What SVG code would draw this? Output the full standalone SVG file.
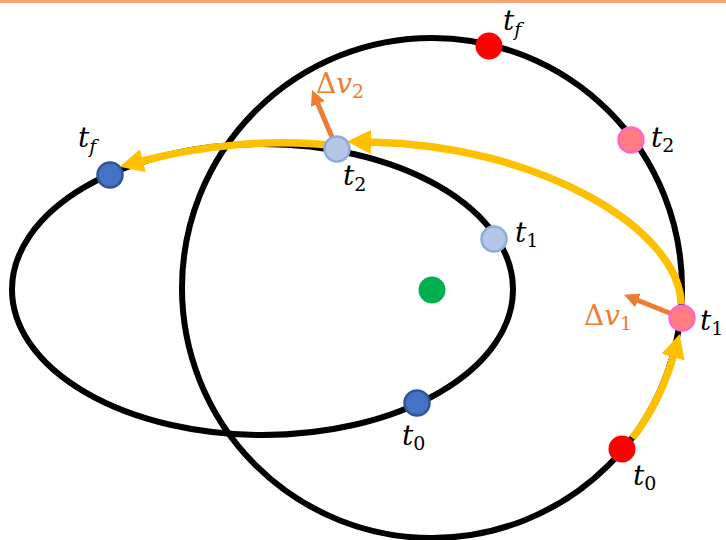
<svg xmlns="http://www.w3.org/2000/svg" width="726" height="540" viewBox="0 0 726 540">
<style>
.orbit{fill:none;stroke:#000;stroke-width:6}
.transfer{fill:none;stroke:#FFC000;stroke-width:7.5;stroke-linecap:butt}
.dv{fill:none;stroke:#ED7D31;stroke-width:5}
.lbl{font-family:"DejaVu Serif","Liberation Serif",serif;font-size:28px;font-style:italic;fill:#000}
.dvl{fill:#ED7D31}
.sub{font-size:19px;font-style:normal}
.subi{font-size:19px;font-style:italic}
.up{font-style:normal}
.red{fill:#FF0000}
.pink{fill:#FF7C80;stroke:#FF66CC;stroke-width:2.5}
.lblue{fill:#B4C7E7;stroke:#8FAADC;stroke-width:2.5}
.dblue{fill:#4472C4;stroke:#2F5597;stroke-width:2.5}
</style>
<defs>
<marker id="ya" markerUnits="userSpaceOnUse" markerWidth="24" markerHeight="24" viewBox="0 0 24 24" refX="1" refY="12" orient="auto">
<path d="M0,0 L24,12 L0,24 z" fill="#FFC000"/>
</marker>
<marker id="oa" markerUnits="userSpaceOnUse" markerWidth="15" markerHeight="15" viewBox="0 0 15 15" refX="1" refY="7.5" orient="auto">
<path d="M0,0 L15,7.5 L0,15 z" fill="#ED7D31"/>
</marker>
</defs>
<rect x="0" y="0" width="726" height="3" fill="#F5A673"/>
<g id="orbits">
<ellipse id="inner-orbit" class="orbit" cx="262.5" cy="289.5" rx="250.5" ry="145.5"/>
<circle id="outer-orbit" class="orbit" cx="432" cy="288" r="250"/>
</g>
<g id="connectors">
<path class="transfer" d="M632.5,438.1 A251,251 0 0 0 673.3,356.2" marker-end="url(#ya)"/>
<path class="transfer" d="M681,304 C680,230 540,145 370,142" marker-end="url(#ya)"/>
<path class="transfer" d="M337,146 C270,138 200,146 142,161" marker-end="url(#ya)"/>
<line class="dv" x1="337" y1="149" x2="317.5" y2="103" marker-end="url(#oa)"/>
<line class="dv" x1="682" y1="318" x2="637" y2="300" marker-end="url(#oa)"/>
</g>
<g id="center"><circle cx="432" cy="290" r="13.5" fill="#00B050"/></g>
<g id="inner-tf"><circle class="dblue" cx="110" cy="175" r="12.5"/><text class="lbl" x="78" y="147">t<tspan class="subi" dy="6">f</tspan></text></g>
<g id="inner-t2"><circle class="lblue" cx="337" cy="149" r="12.5"/><text class="lbl" x="343" y="185">t<tspan class="sub" dy="6">2</tspan></text></g>
<g id="inner-t1"><circle class="lblue" cx="494" cy="239" r="12.5"/><text class="lbl" x="515" y="242">t<tspan class="sub" dy="5">1</tspan></text></g>
<g id="inner-t0"><circle class="dblue" cx="417" cy="403" r="12.5"/><text class="lbl" x="402" y="445">t<tspan class="sub" dy="5">0</tspan></text></g>
<g id="outer-tf"><circle class="red" cx="489" cy="46" r="13.5"/><text class="lbl" x="503" y="30">t<tspan class="subi" dy="6">f</tspan></text></g>
<g id="outer-t2"><circle class="pink" cx="631" cy="140" r="12.5"/><text class="lbl" x="651" y="147">t<tspan class="sub" dy="5">2</tspan></text></g>
<g id="outer-t1"><circle class="pink" cx="682" cy="318" r="12.5"/><text class="lbl" x="700" y="330">t<tspan class="sub" dy="5">1</tspan></text></g>
<g id="outer-t0"><circle class="red" cx="622" cy="449" r="13.5"/><text class="lbl" x="633" y="485">t<tspan class="sub" dy="5">0</tspan></text></g>
<g id="dv2-label"><text class="lbl dvl" x="316" y="93"><tspan class="up">Δ</tspan>v<tspan class="sub" dy="5">2</tspan></text></g>
<g id="dv1-label"><text class="lbl dvl" x="584" y="325"><tspan class="up">Δ</tspan>v<tspan class="sub" dy="5">1</tspan></text></g>
</svg>
